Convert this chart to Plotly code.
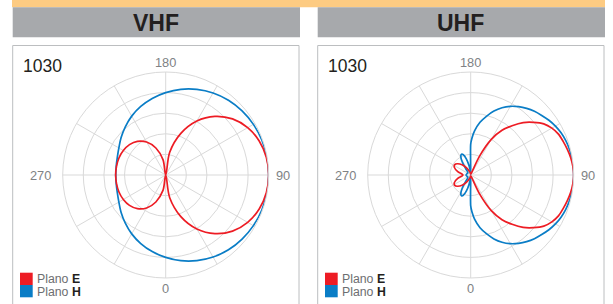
import plotly.graph_objects as go

W, H = 613, 304

# ---------------- data ----------------
panel_titles = ["VHF", "UHF"]
model_label = "1030"
legend_names = ["E", "H"]
angle_ticks = [0, 30, 60, 90, 120, 150, 180, 210, 240, 270, 300, 330]
angle_label_vals = [0, 90, 180, 270]
angle_label_text = ["0", "90", "180", "270"]

vhf_theta = [0, 10, 20, 30, 40, 50, 60, 70, 80, 90, 100, 110, 120, 130, 140, 150, 160, 170, 180,
             190, 200, 210, 220, 230, 240, 250, 260, 270, 280, 290, 300, 310, 320, 330, 340, 350, 360]
vhf_e = [0.0, 0.224, 0.43, 0.605, 0.743, 0.847, 0.919, 0.966, 0.992, 1.0, 0.992, 0.966, 0.919, 0.847,
         0.743, 0.605, 0.43, 0.224, 0.0,
         0.152, 0.279, 0.37, 0.427, 0.459, 0.475, 0.483, 0.485, 0.486,
         0.485, 0.483, 0.475, 0.459, 0.427, 0.37, 0.279, 0.152, 0.0]
vhf_h = [0.80, 0.845, 0.885, 0.92, 0.948, 0.968, 0.983, 0.993, 0.998, 1.0, 0.998, 0.993, 0.983, 0.968,
         0.948, 0.92, 0.885, 0.845, 0.80,
         0.755, 0.708, 0.66, 0.61, 0.565, 0.525, 0.50, 0.488, 0.485,
         0.488, 0.50, 0.525, 0.565, 0.61, 0.66, 0.708, 0.755, 0.80]

uhf_e_theta = [0, 5, 10, 15, 20, 25, 30, 35, 40, 45, 50, 55, 60, 65, 70, 75, 80, 85, 90,
               95, 100, 105, 110, 115, 120, 125, 130, 135, 140, 145, 150, 155, 160, 165, 170, 175, 180,
               190, 200, 210, 220, 230, 237, 245, 255, 262, 270, 278, 285, 295, 303, 310, 320, 330,
               340, 350, 360]
uhf_e = [0.01, 0.01, 0.012, 0.015, 0.02, 0.2, 0.40, 0.53, 0.625, 0.72, 0.796, 0.866, 0.91, 0.94, 0.955,
         0.97, 0.985, 0.995, 1.0,
         0.995, 0.985, 0.97, 0.955, 0.94, 0.91, 0.866, 0.796, 0.72, 0.625, 0.53, 0.40, 0.2, 0.02,
         0.015, 0.012, 0.01, 0.01,
         0.02, 0.04, 0.08, 0.13, 0.17, 0.185, 0.175, 0.13, 0.09, 0.075, 0.09, 0.13, 0.175, 0.185, 0.17,
         0.13, 0.08, 0.04, 0.02, 0.01]

uhf_h_theta = [0, 2, 5, 10, 15, 20, 25, 30, 35, 40, 45, 50, 55, 60, 65, 70, 75, 80, 85, 90,
               95, 100, 105, 110, 115, 120, 125, 130, 135, 140, 145, 150, 155, 160, 165, 170, 175, 178, 180,
               181, 185, 190, 195, 200, 204, 208, 213, 218, 225, 240, 255, 270, 285, 300, 315, 322, 327,
               332, 336, 340, 345, 350, 355, 359, 360]
uhf_h = [0.30, 0.36, 0.43, 0.52, 0.59, 0.66, 0.72, 0.77, 0.81, 0.845, 0.875, 0.90, 0.927, 0.95, 0.968,
         0.981, 0.99, 0.996, 0.999, 1.0,
         0.999, 0.996, 0.99, 0.981, 0.968, 0.95, 0.927, 0.90, 0.875, 0.845, 0.81, 0.77, 0.72, 0.66,
         0.59, 0.52, 0.43, 0.36, 0.30,
         0.01, 0.03, 0.09, 0.16, 0.21, 0.22, 0.205, 0.15, 0.08, 0.04, 0.035, 0.04, 0.045, 0.04, 0.035,
         0.04, 0.08, 0.15, 0.205, 0.22, 0.21, 0.16, 0.09, 0.03, 0.01, 0.30]

RED = "#ED1C24"
BLUE = "#0A7DC6"
GRID = "#D9D9D9"
LABEL = "#808285"
DARK = "#231F20"
FONT = "Liberation Sans, Arial, sans-serif"

# ---------------- layout helpers ----------------
def px(x):
    return x / W


def py(y):
    return 1 - y / H


centers_x = [165.7, 470.7]
center_y = 175.0
R = 103.0
boxes = [(12.7, 299.0), (317.7, 604.0)]
smooth = [1.0, 0.85]

fig = go.Figure()

series = [
    [(vhf_theta, vhf_h, BLUE), (vhf_theta, vhf_e, RED)],
    [(uhf_h_theta, uhf_h, BLUE), (uhf_e_theta, uhf_e, RED)],
]

shapes = []
annotations = []

# orange strip
shapes.append(dict(type="rect", xref="paper", yref="paper", x0=px(12.0), x1=px(605.0),
                   y0=py(7.3), y1=py(0), fillcolor="#FDCB82", line=dict(width=0), layer="below"))

# positions of the angular labels around each dial (offsets in px from the centre)
label_pos = {0: (0, 113, "center"), 90: (108.5, 0.7, "left"), 180: (0, -112.5, "center"),
             270: (-113, 0.7, "right")}

for i in range(2):
    pname = "polar" if i == 0 else "polar2"
    cx = centers_x[i]
    for th, rr, col in series[i]:
        fig.add_trace(go.Scatterpolar(theta=th, r=rr, mode="lines",
                                      line=dict(color=col, width=1.7, shape="spline", smoothing=smooth[i]),
                                      subplot=pname, showlegend=False, hoverinfo="skip"))
    polar = dict(
        domain=dict(x=[px(cx - R), px(cx + R)], y=[py(center_y + R), py(center_y - R)]),
        bgcolor="rgba(0,0,0,0)",
        radialaxis=dict(range=[0, 1], tickvals=[0.2, 0.4, 0.6, 0.8], showticklabels=False,
                        ticks="", showline=False, gridcolor=GRID, gridwidth=1),
        angularaxis=dict(rotation=-90, direction="counterclockwise", tickmode="array",
                         tickvals=angle_ticks, showticklabels=False, ticks="",
                         showline=True, linecolor=GRID, linewidth=1, gridcolor=GRID, gridwidth=1),
    )
    fig.layout[pname] = polar

    for v, t in zip(angle_label_vals, angle_label_text):
        dx, dy, anc = label_pos[v]
        annotations.append(dict(xref="paper", yref="paper", x=px(cx + dx), y=py(center_y + dy),
                                text=t, showarrow=False, xanchor=anc, yanchor="middle",
                                font=dict(family=FONT, size=12.8, color=LABEL)))

    bx0, bx1 = boxes[i]
    # gray header bar
    shapes.append(dict(type="rect", xref="paper", yref="paper", x0=px(bx0), x1=px(bx1 + 1),
                       y0=py(37.3), y1=py(7.3), fillcolor="#A7A9AC", line=dict(width=0), layer="below"))
    annotations.append(dict(xref="paper", yref="paper", x=px((bx0 + bx1) / 2), y=py(22.5),
                            text="<b>%s</b>" % panel_titles[i], showarrow=False,
                            font=dict(family=FONT, size=23, color=DARK),
                            xanchor="center", yanchor="middle"))
    # panel box
    shapes.append(dict(type="rect", xref="paper", yref="paper", x0=px(bx0), x1=px(bx1),
                       y0=py(320), y1=py(45.5), fillcolor="rgba(0,0,0,0)",
                       line=dict(color="#BCBEC0", width=1), layer="below"))
    # model label
    annotations.append(dict(xref="paper", yref="paper", x=px(bx0 + 8.5), y=py(65.5),
                            text=model_label, showarrow=False,
                            font=dict(family=FONT, size=17.5, color=DARK),
                            xanchor="left", yanchor="middle"))
    # legend
    for k, (nm, col) in enumerate(zip(legend_names, [RED, BLUE])):
        y0 = 272.7 + k * 12.3
        shapes.append(dict(type="rect", xref="paper", yref="paper", x0=px(bx0 + 7.3), x1=px(bx0 + 20),
                           y0=py(y0 + 12.3), y1=py(y0), fillcolor=col, line=dict(width=0)))
        annotations.append(dict(xref="paper", yref="paper", x=px(bx0 + 23.5), y=py(y0 + 6.5),
                                text="<span style='color:#6D6E71'>Plano</span> <b>%s</b>" % nm,
                                showarrow=False, xanchor="left", yanchor="middle",
                                height=12, borderpad=0,
                                font=dict(family=FONT, size=12.3, color=DARK)))

fig.update_layout(width=W, height=H, margin=dict(l=0, r=0, t=0, b=0),
                  paper_bgcolor="white", plot_bgcolor="white",
                  shapes=shapes, annotations=annotations, showlegend=False)

fig.write_html("out.html", config={"displayModeBar": False},
               post_script="document.body.style.margin='0';document.body.style.overflow='hidden';")
